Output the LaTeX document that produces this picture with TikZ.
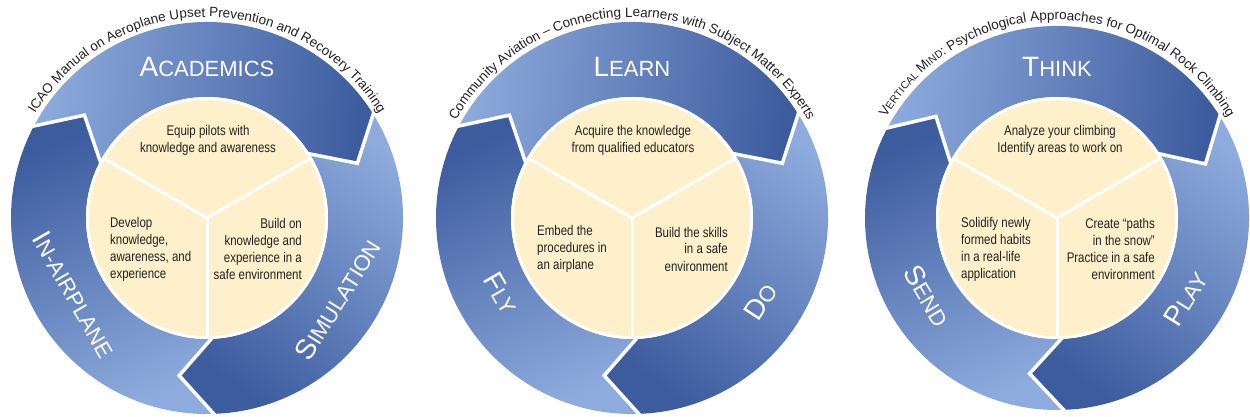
\documentclass[tikz,border=0pt]{standalone}
\usepackage{fontspec}
\setmainfont{Liberation Sans}
\newfontfamily\narrowfont[FakeStretch=0.82]{Liberation Sans}
\usetikzlibrary{decorations.text,calc}
\definecolor{bandlight}{HTML}{8EABDD}
\definecolor{banddark}{HTML}{3D5C9E}
\definecolor{creamfill}{HTML}{FDF0CB}
\definecolor{inktext}{HTML}{222222}
\newcommand\capA[1]{{\fontsize{28}{28}\selectfont #1}}
\newcommand\capB[1]{{\fontsize{22}{22}\selectfont #1}}
\tikzset{
  bodytext/.style={font=\narrowfont\fontsize{14}{17}\selectfont, text=inktext, inner sep=0pt},
  bandlabel/.style={text=white, inner sep=0pt},
  gapline/.style={white, line width=3.5pt, line join=miter},
  divline/.style={white, line width=3pt},
  titlearc/.style={decorate, decoration={text along path, text align=center, text color=inktext, text={#1}}},
}
% #1 outer radius, #2 inner radius, #3 middle radius
\newcommand\ringarrows[3]{%
  \foreach \k in {0,1,2} {
    \pgfmathsetmacro\bA{32-120*\k}
    \pgfmathsetmacro\eA{\bA-120}
    \pgfmathsetmacro\sA{(\bA-6+\eA-12)/2-180}
    \shade[top color=banddark, bottom color=bandlight, shading angle=\sA]
      (\bA:#1) arc[start angle=\bA, end angle=\eA, radius=#1]
      -- (\eA-12:#3) -- (\eA:#2)
      arc[start angle=\eA, end angle=\bA, radius=#2]
      -- (\bA-12:#3) -- cycle;
  }
  \foreach \bA in {32,-88,152} {
    \draw[gapline] ($(\bA-12:#3)!1.06!(\bA:#1)$) -- (\bA-12:#3) -- ($(\bA-12:#3)!1.1!(\bA:#2)$);
  }
  \fill[creamfill, draw=white, line width=3pt] (0,0) circle[radius=119.5];
  \foreach \aA in {150,30,-90} {
    \draw[divline] (0,0) -- (\aA:119);
  }
}
\begin{document}
\begin{tikzpicture}[x=1pt,y=1pt]
\useasboundingbox (0,0) rectangle (1250,417);
% ---------- cycle 1
\begin{scope}[shift={(207,199)}]
  \ringarrows{196}{121}{160}
  \path[titlearc={|\fontsize{13.5}{13.5}\selectfont|ICAO Manual on Aeroplane Upset Prevention and Recovery Training}]
    (175:201) arc[start angle=175, end angle=5, radius=201];
  \node[bandlabel, anchor=base] (a1) at (90:141) {\capA{A}\capB{CADEMICS}};
  \node[bandlabel, rotate=-60] (a2) at (210:153) {\capA{I}\capB{N-AIRPLANE}};
  \node[bandlabel, rotate=58] (a3) at (-32:154) {\capA{S}\capB{IMULATION}};
  \node[bodytext, align=center] (t1) at (1,78) {Equip pilots with\\knowledge and awareness};
  \node[bodytext, align=left, anchor=west] (l1) at (-97,-31) {Develop\\knowledge,\\awareness, and\\experience};
  \node[bodytext, align=right, anchor=east] (r1) at (95,-31) {Build on\\knowledge and\\experience in a\\safe environment};
\end{scope}
% ---------- cycle 2
\begin{scope}[shift={(632,199)}]
  \ringarrows{196}{121}{160}
  \path[titlearc={|\fontsize{13.5}{13.5}\selectfont|Community Aviation – Connecting Learners with Subject Matter Experts}]
    (175:201) arc[start angle=175, end angle=5, radius=201];
  \node[bandlabel, anchor=base] (b1) at (90:141) {\capA{L}\capB{EARN}};
  \node[bandlabel, rotate=-60] (b2) at (210:151) {\capA{F}\capB{LY}};
  \node[bandlabel, rotate=57] (b3) at (-33:153) {\capA{D}\capB{O}};
  \node[bodytext, align=center] (t2) at (1,78) {Acquire the knowledge\\from qualified educators};
  \node[bodytext, align=left, anchor=west] (l2) at (-95,-31) {Embed the\\procedures in\\an airplane};
  \node[bodytext, align=right, anchor=east] (r2) at (96,-31) {Build the skills\\in a safe\\environment};
\end{scope}
% ---------- cycle 3
\begin{scope}[shift={(1057,199)}]
  \ringarrows{192}{121}{158}
  \path[titlearc={|\fontsize{13.5}{13.5}\selectfont|V|\fontsize{10.5}{10.5}\selectfont|ERTICAL |\fontsize{13.5}{13.5}\selectfont|M|\fontsize{10.5}{10.5}\selectfont|IND|\fontsize{13.5}{13.5}\selectfont|: Psychological Approaches for Optimal Rock Climbing}]
    (175:198) arc[start angle=175, end angle=5, radius=198];
  \node[bandlabel, anchor=base] (c1) at (90:141) {\capA{T}\capB{HINK}};
  \node[bandlabel, rotate=-59] (c2) at (211:151) {\capA{S}\capB{END}};
  \node[bandlabel, rotate=58] (c3) at (-32:152) {\capA{P}\capB{LAY}};
  \node[bodytext, align=center] (t3) at (3,78) {Analyze your climbing\\Identify areas to work on};
  \node[bodytext, align=left, anchor=west] (l3) at (-96,-31) {Solidify newly\\formed habits\\in a real-life\\application};
  \node[bodytext, align=right, anchor=east] (r3) at (98,-31) {Create “paths\\in the snow”\\Practice in a safe\\environment};
\end{scope}
\end{tikzpicture}
\end{document}
